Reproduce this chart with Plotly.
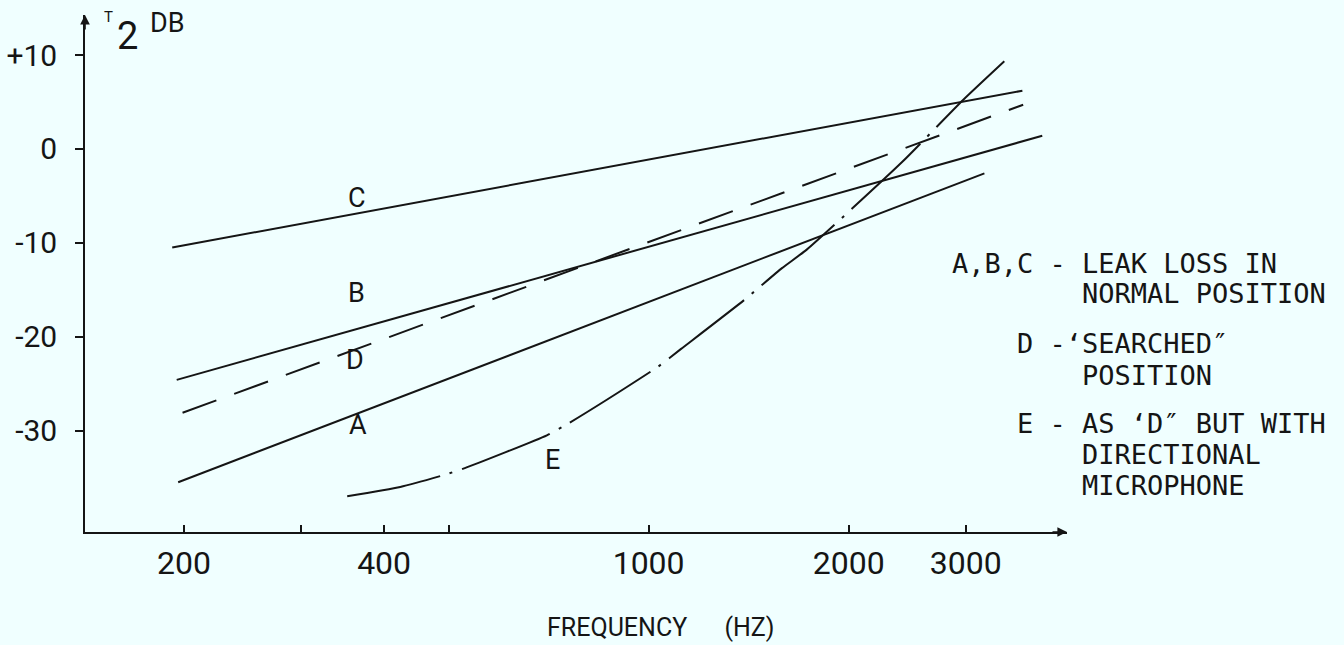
import plotly.graph_objects as go

# ---- data (frequency in Hz, level in dB) ----
freq_C = [192, 3650]
db_C = [-10.5, 6.2]

freq_B = [195, 3910]
db_B = [-24.6, 1.4]

freq_D = [199, 3660]
db_D = [-28.1, 4.7]

freq_A = [196, 3200]
db_A = [-35.5, -2.6]

freq_E = [352, 423, 494, 529, 703, 759, 1033, 1119, 1392, 1587, 1731, 2406, 2972, 3486]
db_E = [-37.0, -36.0, -34.7, -34.0, -30.5, -29.2, -23.2, -21.3, -16.1, -12.7, -10.7, -1.4, 5.2, 9.8]

x_tickvals = [200, 300, 400, 500, 1000, 2000, 3000]
x_ticktext = ["200", "", "400", "", "1000", "2000", "3000"]
y_tickvals = [-30, -20, -10, 0, 10]
y_ticktext = ["-30", "-20", "-10", "0", "+10"]

curve_labels = ["C", "B", "D", "A", "E"]
legend_lines = [
    "A,B,C - LEAK LOSS IN",
    "        NORMAL POSITION",
    "    D -\u2018SEARCHED\u2033",
    "        POSITION",
    "    E - AS \u2018D\u2033 BUT WITH",
    "        DIRECTIONAL",
    "        MICROPHONE",
]

INK = "#151515"
BG = "#F0FFFF"
NARROW = "Roboto, Liberation Sans, sans-serif"
MONO = "DejaVu Sans Mono, monospace"

fig = go.Figure()
line_style = dict(color=INK, width=2)
fig.add_trace(go.Scatter(x=freq_C, y=db_C, mode="lines", line=line_style, name="C"))
fig.add_trace(go.Scatter(x=freq_B, y=db_B, mode="lines", line=line_style, name="B"))
fig.add_trace(go.Scatter(x=freq_D, y=db_D, mode="lines",
                         line=dict(color=INK, width=2, dash="36px,19px"), name="D"))
fig.add_trace(go.Scatter(x=freq_A, y=db_A, mode="lines", line=line_style, name="A"))
fig.add_trace(go.Scatter(x=freq_E, y=db_E, mode="lines",
                         line=dict(color=INK, width=2, dash="95px,10px,3px,10px",
                                   shape="spline", smoothing=0.5), name="E"))

W, H = 1344, 645
L, R, T, B = 85, 1344 - 1067, 15, 645 - 532
pw, ph = W - L - R, H - T - B


def px(xp, yp):
    return (xp - L) / pw, (H - B - yp) / ph


annotations = []
# curve letters
label_pos = [(357, 198), (356, 293), (355, 360), (358, 425), (552, 460)]
for txt, (xp, yp) in zip(curve_labels, label_pos):
    xx, yy = px(xp, yp)
    annotations.append(dict(text=txt, x=xx, y=yy, xref="paper", yref="paper",
                            showarrow=False, xanchor="center", yanchor="middle",
                            font=dict(family=NARROW, size=27, color=INK)))
# legend text block
legend_y = [263, 294, 343, 375, 423, 454, 485]
for txt, yp in zip(legend_lines, legend_y):
    xx, yy = px(950, yp)
    annotations.append(dict(text=txt.replace(" ", "\u00a0"), x=xx, y=yy,
                            xref="paper", yref="paper", showarrow=False,
                            xanchor="left", yanchor="middle",
                            font=dict(family=MONO, size=27, color=INK)))
# axis titles
xx, yy = px(660, 627)
annotations.append(dict(text="FREQUENCY" + "\u00a0" * 6 + "(HZ)", x=xx, y=yy,
                        xref="paper", yref="paper", showarrow=False,
                        xanchor="center", yanchor="middle",
                        font=dict(family=NARROW, size=25, color=INK)))
for txt, (xp, yp), size in [("T", (108, 17), 15), ("2", (127, 36), 38), ("DB", (167, 23), 27)]:
    xx, yy = px(xp, yp)
    annotations.append(dict(text=txt, x=xx, y=yy, xref="paper", yref="paper",
                            showarrow=False, xanchor="center", yanchor="middle",
                            font=dict(family=NARROW, size=size, color=INK)))
# axis arrow heads
annotations.append(dict(x=0, y=1, xref="paper", yref="paper", text="", showarrow=True,
                        ax=0, ay=16, arrowhead=2, arrowsize=1.2, arrowwidth=1.6,
                        arrowcolor=INK))
annotations.append(dict(x=1, y=0, xref="paper", yref="paper", text="", showarrow=True,
                        ax=-16, ay=0, arrowhead=2, arrowsize=1.2, arrowwidth=1.6,
                        arrowcolor=INK))

fig.update_layout(
    width=W, height=H,
    margin=dict(l=L, r=R, t=T, b=B, pad=0, autoexpand=False),
    paper_bgcolor=BG, plot_bgcolor=BG,
    showlegend=False,
    annotations=annotations,
    xaxis=dict(type="log", range=[2.1521, 3.6294], automargin=False,
               tickvals=x_tickvals, ticktext=x_ticktext,
               ticks="inside", ticklen=7, tickwidth=1.5, tickcolor=INK,
               showline=True, linewidth=1.6, linecolor=INK,
               showgrid=False, zeroline=False, ticklabelstandoff=2,
               tickfont=dict(family=NARROW, size=32, color=INK)),
    yaxis=dict(range=[-40.8, 14.26], automargin=False,
               tickvals=y_tickvals, ticktext=y_ticktext,
               ticks="outside", ticklen=8, tickwidth=1.5, tickcolor=INK,
               showline=True, linewidth=1.6, linecolor=INK,
               showgrid=False, zeroline=False, ticklabelstandoff=12,
               tickfont=dict(family=NARROW, size=30, color=INK)),
)

fig.write_html(
    "out.html",
    config={"displayModeBar": False},
    post_script="document.body.style.margin='0';document.body.style.background='#F0FFFF';",
)
